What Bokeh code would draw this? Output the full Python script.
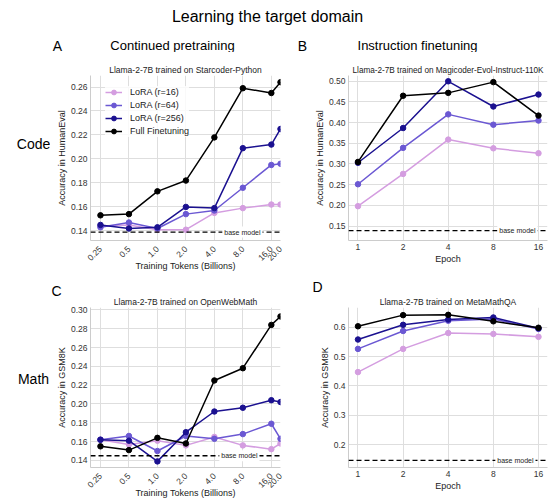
import numpy as np
from bokeh.plotting import figure
from bokeh.layouts import column, row
from bokeh.models import Range1d, FixedTicker, Span, Label, Title, PrintfTickFormatter
from bokeh.embed import file_html
from bokeh.resources import INLINE
from bokeh.core.properties import value

FONT = "Liberation Sans"

# ---------------- data ----------------
tokens = [0.25, 0.5, 1.0, 2.0, 4.0, 8.0, 16.0, 20.0]
token_labels = ["0.25", "0.5", "1.0", "2.0", "4.0", "8.0", "16.0", "20.0"]
epochs = [1, 2, 4, 8, 16]
epoch_labels = ["1", "2", "4", "8", "16"]
series_names = ["LoRA (r=16)", "LoRA (r=64)", "LoRA (r=256)", "Full Finetuning"]
series_colors = ["#d49de0", "#6b58d3", "#1b1190", "#000000"]

# A: Code, continued pretraining (HumanEval)
code_cpt_r16 = [0.144, 0.145, 0.141, 0.141, 0.155, 0.159, 0.162, 0.162]
code_cpt_r64 = [0.143, 0.147, 0.142, 0.154, 0.157, 0.176, 0.195, 0.196]
code_cpt_r256 = [0.145, 0.142, 0.143, 0.160, 0.159, 0.209, 0.212, 0.225]
code_cpt_full = [0.153, 0.154, 0.173, 0.182, 0.218, 0.259, 0.255, 0.264]
code_base = 0.139

# B: Code, instruction finetuning (HumanEval)
code_ift_r16 = [0.198, 0.276, 0.359, 0.338, 0.326]
code_ift_r64 = [0.251, 0.339, 0.420, 0.395, 0.405]
code_ift_r256 = [0.303, 0.387, 0.500, 0.439, 0.468]
code_ift_full = [0.305, 0.465, 0.472, 0.498, 0.417]

# C: Math, continued pretraining (GSM8K)
math_cpt_r16 = [0.162, 0.157, 0.161, 0.156, 0.165, 0.156, 0.152, 0.158]
math_cpt_r64 = [0.162, 0.166, 0.150, 0.166, 0.163, 0.168, 0.179, 0.163]
math_cpt_r256 = [0.162, 0.161, 0.139, 0.170, 0.192, 0.196, 0.204, 0.202]
math_cpt_full = [0.155, 0.151, 0.164, 0.158, 0.225, 0.238, 0.284, 0.293]
math_base_c = 0.145

# D: Math, instruction finetuning (GSM8K)
math_ift_r16 = [0.447, 0.526, 0.580, 0.577, 0.567]
math_ift_r64 = [0.526, 0.587, 0.622, 0.628, 0.594]
math_ift_r256 = [0.558, 0.608, 0.626, 0.633, 0.596]
math_ift_full = [0.603, 0.641, 0.642, 0.620, 0.598]
math_base_d = 0.146

ticks_a = [0.14, 0.16, 0.18, 0.20, 0.22, 0.24, 0.26]
ticks_b = [0.15, 0.20, 0.25, 0.30, 0.35, 0.40, 0.45, 0.50]
ticks_c = [0.14, 0.16, 0.18, 0.20, 0.22, 0.24, 0.26, 0.28, 0.30]
ticks_d = [0.2, 0.3, 0.4, 0.5, 0.6]


def text_fig(width, height, items):
    """Blank figure whose coordinates are pixels from its top-left corner."""
    f = figure(width=width, height=height, x_range=Range1d(0, width),
               y_range=Range1d(height, 0), output_backend="svg",
               toolbar_location=None, min_border=0, title_location=None)
    f.axis.visible = False
    f.grid.visible = False
    f.outline_line_color = None
    for x, y, t, size in items:
        f.text(x=[x], y=[y], text=[t], text_align="center", text_baseline="middle",
               text_font=value(FONT), text_font_size=size, text_color="black")
    return f


def make_panel(width, height, bl, br, bt, bb, xr, yr, xs, xlabels, yticks, yfmt,
               rotate, xlabel, ylabel, series, base, base_gap, subtitle,
               sub_size="8.5px", letter=None, letter_offset=0, letter_standoff=0,
               legend=False):
    p = figure(width=width, height=height, x_axis_type="log",
               x_range=Range1d(*xr), y_range=Range1d(*yr),
               output_backend="svg", toolbar_location=None, title_location=None,
               min_border_left=bl, min_border_right=br,
               min_border_top=bt, min_border_bottom=bb)
    p.outline_line_color = None
    p.xaxis.ticker = FixedTicker(ticks=xs)
    p.xgrid.ticker = FixedTicker(ticks=xs)
    p.xaxis.major_label_overrides = {float(k): v for k, v in zip(xs, xlabels)}
    p.yaxis.ticker = FixedTicker(ticks=yticks)
    p.ygrid.ticker = FixedTicker(ticks=yticks)
    p.yaxis.formatter = PrintfTickFormatter(format=yfmt)
    p.xaxis.axis_label = xlabel
    p.yaxis.axis_label = ylabel
    for ax in p.axis:
        ax.axis_line_color = "#cccccc"
        ax.major_tick_line_color = None
        ax.minor_tick_line_color = None
        ax.major_tick_out = 0
        ax.major_tick_in = 0
        ax.major_label_standoff = 3
        ax.major_label_text_font = FONT
        ax.major_label_text_font_size = "8.5px"
        ax.major_label_text_color = "#333333"
        ax.axis_label_text_font = FONT
        ax.axis_label_text_font_size = "9px"
        ax.axis_label_text_font_style = "normal"
        ax.axis_label_text_color = "#222222"
        ax.axis_label_standoff = 1
    p.xaxis.major_label_standoff = 3
    p.xaxis.axis_label_standoff = 1
    if rotate:
        p.xaxis.major_label_orientation = np.pi / 4
        p.xaxis.major_label_text_align = "center"
        p.xaxis.major_label_text_baseline = "middle"
        p.xaxis.major_label_standoff = 7
        p.xaxis.axis_label_standoff = -5
    p.xgrid.grid_line_color = "#dedede"
    p.ygrid.grid_line_color = "#dedede"

    for name, color, ys in zip(series_names, series_colors, series):
        kw = dict(legend_label=name) if legend else {}
        p.line(xs, ys, line_color=color, line_width=1.5, **kw)
        p.scatter(xs, ys, size=5.5, fill_color=color, line_color=color, **kw)

    p.add_layout(Span(location=base, dimension="width", line_color="black",
                      line_dash="5 3", line_width=1.3))
    fw = width - bl - br
    p.add_layout(Label(x=fw - base_gap, y=base, x_units="screen", y_units="data",
                       text="base model", text_align="right", text_baseline="middle",
                       text_font=FONT, text_font_size="7px", text_color="#222222",
                       background_fill_color="white", padding=2))

    p.add_layout(Title(text=subtitle, align="center", text_font=FONT,
                       text_font_size=sub_size, text_font_style="normal",
                       text_color="#222222", standoff=1), "above")
    if letter:
        p.add_layout(Title(text=letter, align="left", offset=letter_offset,
                           text_font=FONT, text_font_size="14px",
                           text_font_style="normal", text_color="black",
                           standoff=letter_standoff), "above")

    if legend:
        lg = p.legend[0]
        lg.location = (15, 103)
        lg.label_text_font = FONT
        lg.label_text_font_size = "9px"
        lg.label_text_color = "#222222"
        lg.glyph_width = 17
        lg.glyph_height = 12
        lg.label_height = 12
        lg.label_standoff = 8
        lg.spacing = 1
        lg.padding = 3
        lg.margin = 0
        lg.border_line_color = None
        lg.background_fill_alpha = 0.8
    return p


tok_range = (0.25 / 2 ** 0.35, 20.0)
ep_range = (2 ** -0.21, 16 * 2 ** 0.2)

top = text_fig(549, 52, [
    (267, 16, "Learning the target domain", "16px"),
    (57, 45, "A", "14px"),
    (172, 45, "Continued pretraining", "13px"),
    (302, 45, "B", "14px"),
    (417, 45, "Instruction finetuning", "13px"),
])
code_lab = text_fig(50, 224, [(33, 93, "Code", "14px")])
math_lab = text_fig(50, 225, [(33, 101, "Math", "14px")])

pA = make_panel(240, 224, 40, 10, 21, 36, tok_range, (0.132, 0.2696), tokens, token_labels,
                ticks_a, "%.2f", True, "Training Tokens (Billions)", "Accuracy in HumanEval",
                [code_cpt_r16, code_cpt_r64, code_cpt_r256, code_cpt_full], code_base, 18,
                "Llama-2-7B trained on Starcoder-Python", legend=True)

pB = make_panel(259, 224, 58, 2, 23, 36, ep_range, (0.115, 0.514), epochs, epoch_labels,
                ticks_b, "%.2f", False, "Epoch", "Accuracy in HumanEval",
                [code_ift_r16, code_ift_r64, code_ift_r256, code_ift_full], code_base, 10,
                "Llama-2-7B trained on Magicoder-Evol-Instruct-110K", sub_size="8.2px")

pC = make_panel(240, 225, 40, 10, 31, 31, tok_range, (0.1325, 0.3025), tokens, token_labels,
                ticks_c, "%.2f", True, "Training Tokens (Billions)", "Accuracy in GSM8K",
                [math_cpt_r16, math_cpt_r64, math_cpt_r256, math_cpt_full], math_base_c, 21,
                "Llama-2-7B trained on OpenWebMath", letter="C", letter_offset=-39,
                letter_standoff=-8)

pD = make_panel(259, 225, 58, 2, 31, 31, ep_range, (0.122, 0.667), epochs, epoch_labels,
                ticks_d, "%.1f", False, "Epoch", "Accuracy in GSM8K",
                [math_ift_r16, math_ift_r64, math_ift_r256, math_ift_full], math_base_d, 12,
                "Llama-2-7B trained on MetaMathQA", letter="D", letter_offset=-36)

layout = column(top, row(code_lab, pA, pB), row(math_lab, pC, pD))
open("out.html", "w").write(file_html(layout, INLINE))
